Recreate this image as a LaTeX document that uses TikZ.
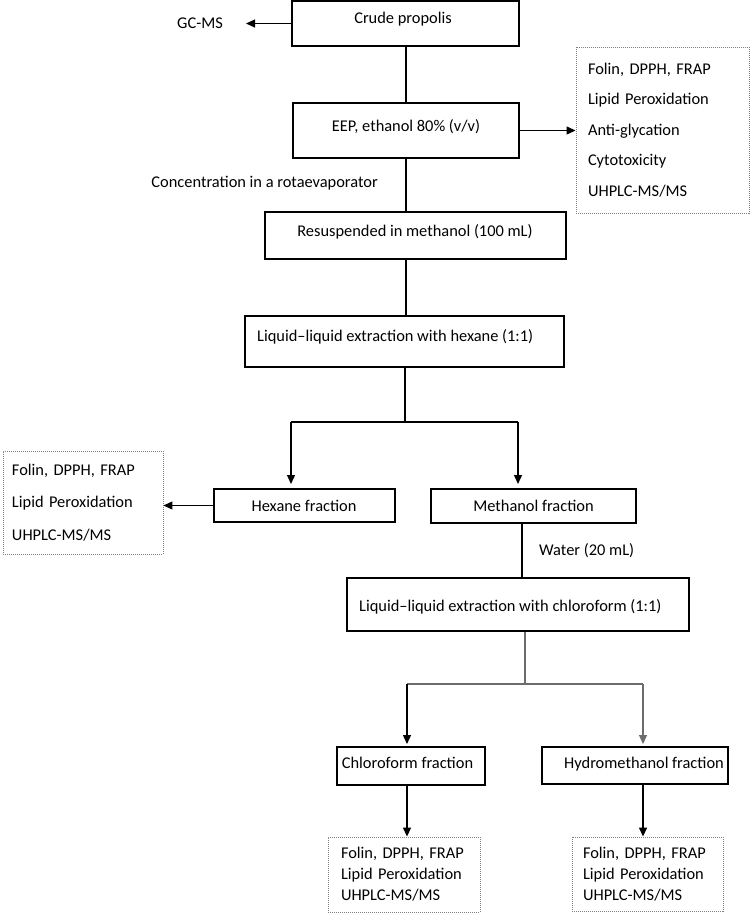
\documentclass[tikz,border=0pt]{standalone}
\usepackage{fontspec}
\setmainfont{Carlito}
\usetikzlibrary{arrows.meta,calc}
\frenchspacing
\begin{document}
\begin{tikzpicture}[x=1pt,y=-1pt,
  font=\fontsize{16.4}{20}\selectfont\frenchspacing,
  box/.style={draw, line width=2pt, inner sep=0pt},
  dbox/.style={draw=gray, line width=0.9pt, dash pattern=on 1pt off 1pt, inner ysep=0pt, align=left},
  txt/.style={inner sep=0pt, text height=10.6pt, text depth=0pt},
  conn/.style={line width=1.3pt},
  arr/.style={conn, -{Triangle[length=9pt,width=8pt]}},
  gconn/.style={line width=1.3pt, draw=gray!85!black},
]
\useasboundingbox (0,0) rectangle (750,913);

% main boxes
\node[box, minimum width=227pt, minimum height=45pt] (crude) at (405.5,23.5) {};
\node[txt] (crudet) at (403,18) {Crude propolis};
\node[box, minimum width=226pt, minimum height=55pt] (eep) at (406,130.5) {};
\node[txt] (eept) at (406,126) {EEP, ethanol 80\% (v/v)};
\node[box, minimum width=301pt, minimum height=47pt] (resus) at (415.5,235.5) {};
\node[txt] (resust) at (415,231) {Resuspended in methanol (100 mL)};
\node[box, minimum width=319pt, minimum height=51pt] (llehex) at (404.5,341.5) {};
\node[txt, anchor=west] (llehext) at (257,336) {Liquid–liquid extraction with hexane (1:1)};
\node[box, minimum width=181pt, minimum height=33pt] (hexfr) at (304.5,505.5) {};
\node[txt] (hexfrt) at (304,506) {Hexane fraction};
\node[box, minimum width=205pt, minimum height=34pt] (methfr) at (533.5,506) {};
\node[txt] (methfrt) at (533.5,506) {Methanol fraction};
\node[box, minimum width=342pt, minimum height=53pt] (llechl) at (518,604.5) {};
\node[txt, anchor=west] (llechlt) at (359,606) {Liquid–liquid extraction with chloroform (1:1)};
\node[box, minimum width=148pt, minimum height=38pt] (chlfr) at (411,766) {};
\node[txt] (chlfrt) at (407.5,763) {Chloroform fraction};
\node[box, minimum width=186pt, minimum height=37pt] (hydfr) at (635,765.5) {};
\node[txt] (hydfrt) at (644,763) {Hydromethanol fraction};

% free texts
\node[txt] (gcms) at (200,23.5) {GC-MS};
\node[txt, anchor=east] (conc) at (378,182) {Concentration in a rotaevaporator};
\node[txt, anchor=west] (water) at (539,550) {Water (20 mL)};

% dotted boxes
\node[dbox, minimum width=173pt, minimum height=166pt, text width=149pt, inner xsep=12pt,
      font=\fontsize{16.4}{30.5}\selectfont\frenchspacing] (A) at (662.5,130)
  {Folin, DPPH, FRAP\\Lipid Peroxidation\\Anti-glycation\\Cytotoxicity\\UHPLC-MS/MS};
\node[dbox, minimum width=160pt, minimum height=103pt, text width=142pt, inner xsep=9pt,
      font=\fontsize{16.4}{32.5}\selectfont\frenchspacing] (B) at (83,502.5)
  {Folin, DPPH, FRAP\\Lipid Peroxidation\\UHPLC-MS/MS};
\node[dbox, minimum width=152pt, minimum height=75pt, text width=126pt, inner xsep=13pt,
      font=\fontsize{16.4}{21}\selectfont\frenchspacing] (C) at (404,874.5)
  {Folin, DPPH, FRAP\\Lipid Peroxidation\\UHPLC-MS/MS};
\node[dbox, minimum width=151pt, minimum height=74pt, text width=129pt, inner xsep=11pt,
      font=\fontsize{16.4}{21}\selectfont\frenchspacing] (D) at (647.5,874)
  {Folin, DPPH, FRAP\\Lipid Peroxidation\\UHPLC-MS/MS};

% connectors
\draw[arr] (crude.west) -- ($(crude.west -| gcms.east)+(23,0)$);
\draw[conn] (eep.north |- crude.south) -- (eep.north);
\draw[arr] (eep.east) -- (eep.east -| A.west);
\draw[conn] (eep.south) -- (eep.south |- resus.north);
\draw[conn] (eep.south |- resus.south) -- (eep.south |- llehex.north);

\coordinate (s1) at (405,422);
\coordinate (h1) at (291,422);
\coordinate (m1) at (518,422);
\draw[conn] (s1 |- llehex.south) -- (s1);
\draw[conn] (h1) -- (m1);
\draw[arr, shorten >=4pt] (h1) -- (h1 |- hexfr.north);
\draw[arr, shorten >=4pt] (m1) -- (m1 |- methfr.north);
\draw[arr] (hexfr.west) -- (hexfr.west -| B.east);

\coordinate (w1) at (522,550);
\draw[conn] (w1 |- methfr.south) -- (w1 |- llechl.north);

\coordinate (s2) at (525,684);
\coordinate (cl) at (407,684);
\coordinate (hr) at (643,684);
\draw[gconn] (s2 |- llechl.south) -- (s2);
\draw[gconn] (cl) -- (hr);
\draw[arr, shorten >=2pt] (cl) -- (cl |- chlfr.north);
\draw[arr, draw=gray!85!black, shorten >=2pt] (hr) -- (hr |- hydfr.north);
\draw[arr] (cl |- chlfr.south) -- (cl |- C.north);
\draw[arr] (hr |- hydfr.south) -- (hr |- D.north);
\end{tikzpicture}
\end{document}
